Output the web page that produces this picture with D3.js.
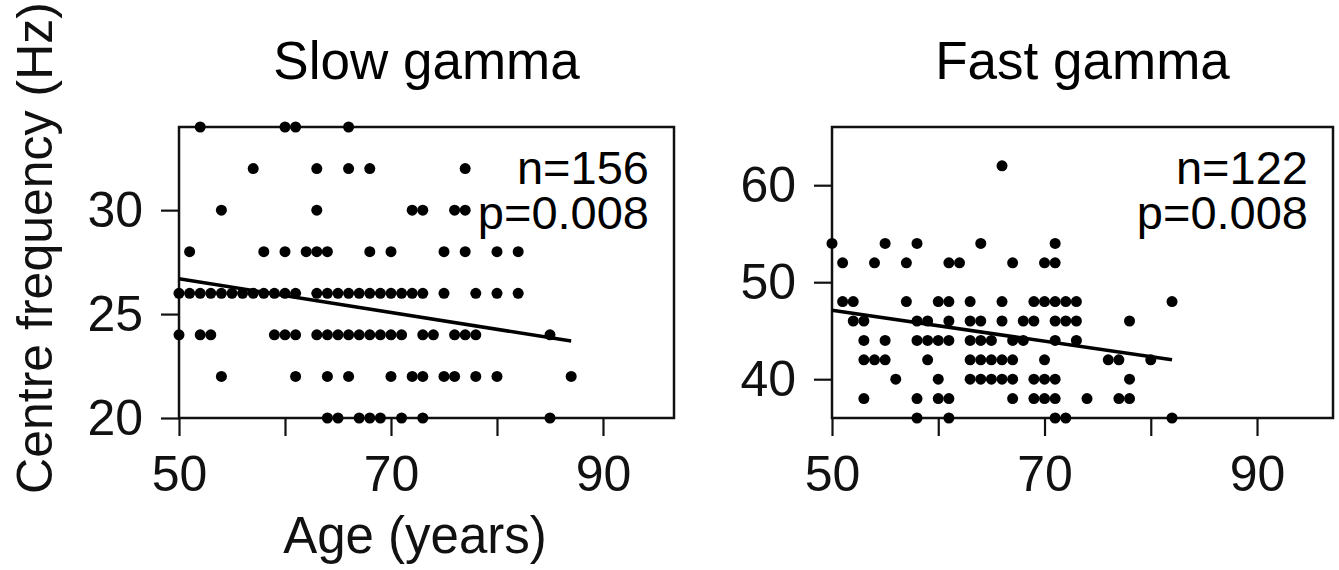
<!DOCTYPE html>
<html>
<head>
<meta charset="utf-8">
<script src="https://cdn.jsdelivr.net/npm/d3@7"></script>
<style>
  body { margin: 0; background: #fff; }
  svg { display: block; font-family: "Liberation Sans", Arial, sans-serif; }
</style>
</head>
<body>
<svg width="1339" height="570"></svg>
<script>
// x ticks shared by both panels, only some get a label
let ageTicks = [50, 60, 70, 80, 90];
let ageLabels = [50, 70, 90];

// slow gamma: one list of ages per frequency row
let slowFreqs = [34, 32, 30, 28, 26, 24, 22, 20];
let slowAges = [
  [52, 60, 61, 66],
  [57, 63, 66, 68, 77],
  [54, 63, 72, 73, 76, 77],
  [51, 58, 60, 62, 63, 64, 68, 70, 75, 77, 80, 82],
  [50, 51, 52, 53, 54, 55, 56, 57, 58, 59, 60, 61, 63, 64, 65, 66, 67, 68, 69, 70, 71, 72, 73, 75, 78, 80, 82],
  [50, 52, 53, 59, 60, 61, 63, 64, 65, 66, 67, 68, 69, 70, 71, 73, 74, 76, 77, 78, 85],
  [54, 61, 64, 66, 70, 72, 73, 75, 76, 78, 80, 87],
  [64, 65, 67, 68, 69, 71, 73, 85]
];
let slowFit = [[50, 26.7], [87, 23.7]];
let slowYTicks = [20, 25, 30];

// fast gamma
let fastFreqs = [62, 54, 52, 48, 46, 44, 42, 40, 38, 36];
let fastAges = [
  [66],
  [50, 55, 58, 64, 71],
  [51, 54, 57, 61, 62, 67, 70, 71],
  [51, 52, 57, 60, 61, 63, 66, 69, 70, 71, 72, 73, 82],
  [52, 53, 58, 59, 61, 63, 64, 66, 68, 69, 71, 72, 73, 78],
  [53, 55, 58, 59, 60, 61, 63, 64, 65, 67, 68, 71, 73],
  [53, 54, 55, 59, 63, 64, 65, 66, 67, 70, 76, 77, 80],
  [56, 60, 63, 64, 65, 66, 67, 69, 70, 71, 78],
  [53, 58, 60, 61, 67, 69, 70, 71, 74, 77, 78],
  [58, 61, 71, 72, 82]
];
let fastFit = [[50, 47.1], [82, 42.0]];
let fastYTicks = [40, 50, 60];

var svg = d3.select("svg");
var font = 50;

function toPoints(freqs, ages){
    let pts = [];
    freqs.forEach(function(f, i){
        ages[i].forEach(function(a){ pts.push([a, f]); });
    });
    return pts;
}

function drawPanel(opt){
    let x = d3.scaleLinear().domain([50, opt.xMax]).range([opt.left, opt.right]);
    let y = d3.scaleLinear().domain(opt.yDomain).range([418, 127]);

    let g = svg.append("g");

    g.append("g")
        .attr("transform", "translate(0,418)")
        .call(d3.axisBottom(x).tickValues(ageTicks).tickSize(18).tickPadding(19)
            .tickFormat(function(d){ return ageLabels.indexOf(d) >= 0 ? d : ""; }))
        .call(styleAxis);

    g.append("g")
        .attr("transform", "translate(" + opt.left + ",0)")
        .call(d3.axisLeft(y).tickValues(opt.yTicks).tickSize(18).tickPadding(18))
        .call(styleAxis);

    g.append("rect")
        .attr("x", opt.left)
        .attr("y", 127)
        .attr("width", opt.right - opt.left)
        .attr("height", 418 - 127)
        .attr("fill", "none")
        .attr("stroke", "#111")
        .attr("stroke-width", 2.5);

    g.append("g")
        .selectAll("circle")
        .data(toPoints(opt.freqs, opt.ages))
        .enter().append("circle")
        .attr("cx", function(d){ return x(d[0]); })
        .attr("cy", function(d){ return y(d[1]); })
        .attr("r", 5.5)
        .attr("fill", "#000");

    g.append("path")
        .datum(opt.fit)
        .attr("fill", "none")
        .attr("stroke", "#000")
        .attr("stroke-width", 3.5)
        .attr("d", d3.line().x(function(d){ return x(d[0]); }).y(function(d){ return y(d[1]); }));

    g.append("text")
        .attr("x", (opt.left + opt.right) / 2)
        .attr("y", 79)
        .attr("text-anchor", "middle")
        .attr("font-size", 53)
        .text(opt.title);

    // n and p as two lines of one text
    let stats = g.append("text")
        .attr("text-anchor", "end")
        .attr("font-size", 47);
    stats.append("tspan")
        .attr("x", opt.right - 25)
        .attr("y", 184)
        .text(opt.n);
    stats.append("tspan")
        .attr("x", opt.right - 25)
        .attr("y", 229)
        .text(opt.p);
}

function styleAxis(sel){
    sel.select(".domain").remove();
    sel.selectAll(".tick line").attr("stroke", "#111").attr("stroke-width", 2.2);
    sel.selectAll(".tick text")
        .attr("fill", "#111")
        .attr("font-size", font)
        .attr("font-family", "Liberation Sans, Arial, sans-serif");
}

drawPanel({left: 179, right: 674, xMax: 96.7, yDomain: [20, 34], yTicks: slowYTicks,
           freqs: slowFreqs, ages: slowAges, fit: slowFit,
           title: "Slow gamma", n: "n=156", p: "p=0.008"});

drawPanel({left: 832, right: 1333, xMax: 97.15, yDomain: [36, 66], yTicks: fastYTicks,
           freqs: fastFreqs, ages: fastAges, fit: fastFit,
           title: "Fast gamma", n: "n=122", p: "p=0.008"});

// axis titles
svg.append("text")
    .attr("transform", "translate(52,248) rotate(-90)")
    .attr("text-anchor", "middle")
    .attr("font-size", font)
    .attr("fill", "#111")
    .text("Centre frequency (Hz)");

svg.append("text")
    .attr("x", 415)
    .attr("y", 553)
    .attr("text-anchor", "middle")
    .attr("font-size", 51)
    .attr("fill", "#111")
    .text("Age (years)");
</script>
</body>
</html>
